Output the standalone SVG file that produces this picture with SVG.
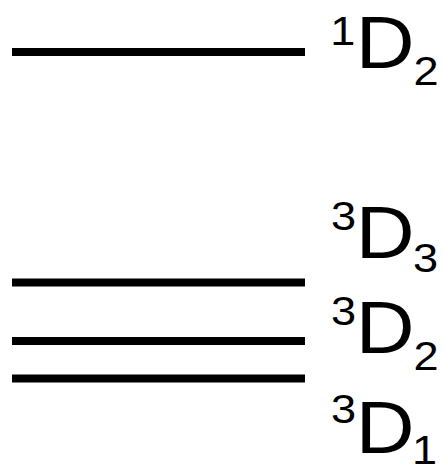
<svg xmlns="http://www.w3.org/2000/svg" width="444" height="467" viewBox="0 0 444 467">
<style>
.lvl{stroke:#000;stroke-width:8;fill:none}
.lbl{font-family:"Liberation Sans",Arial,sans-serif;fill:#000}
.big{font-size:74px}
.small{font-size:41px}
</style>
<rect width="444" height="467" fill="#fff"/>
<g id="level-1D2">
<line class="lvl" x1="12" y1="52" x2="305" y2="52"/>
<text class="lbl" transform="translate(331 0) scale(1.1 1)"><tspan class="small" x="-0.8" y="45">1</tspan><tspan class="big" x="22.5" y="68">D</tspan><tspan class="small" x="75.1" y="85">2</tspan></text>
</g>
<g id="level-3D3">
<line class="lvl" x1="12" y1="282.5" x2="305" y2="282.5"/>
<text class="lbl" transform="translate(331 0) scale(1.1 1)"><tspan class="small" x="0" y="230">3</tspan><tspan class="big" x="22.5" y="258">D</tspan><tspan class="small" x="74.6" y="272">3</tspan></text>
</g>
<g id="level-3D2">
<line class="lvl" x1="12" y1="341" x2="305" y2="341"/>
<text class="lbl" transform="translate(331 0) scale(1.1 1)"><tspan class="small" x="0" y="325">3</tspan><tspan class="big" x="22.5" y="353">D</tspan><tspan class="small" x="75.1" y="370">2</tspan></text>
</g>
<g id="level-3D1">
<line class="lvl" x1="12" y1="378.5" x2="305" y2="378.5"/>
<text class="lbl" transform="translate(331 0) scale(1.1 1)"><tspan class="small" x="0" y="423">3</tspan><tspan class="big" x="22.5" y="453">D</tspan><tspan class="small" x="73.7" y="464">1</tspan></text>
</g>
<g id="connectors"/>
</svg>
